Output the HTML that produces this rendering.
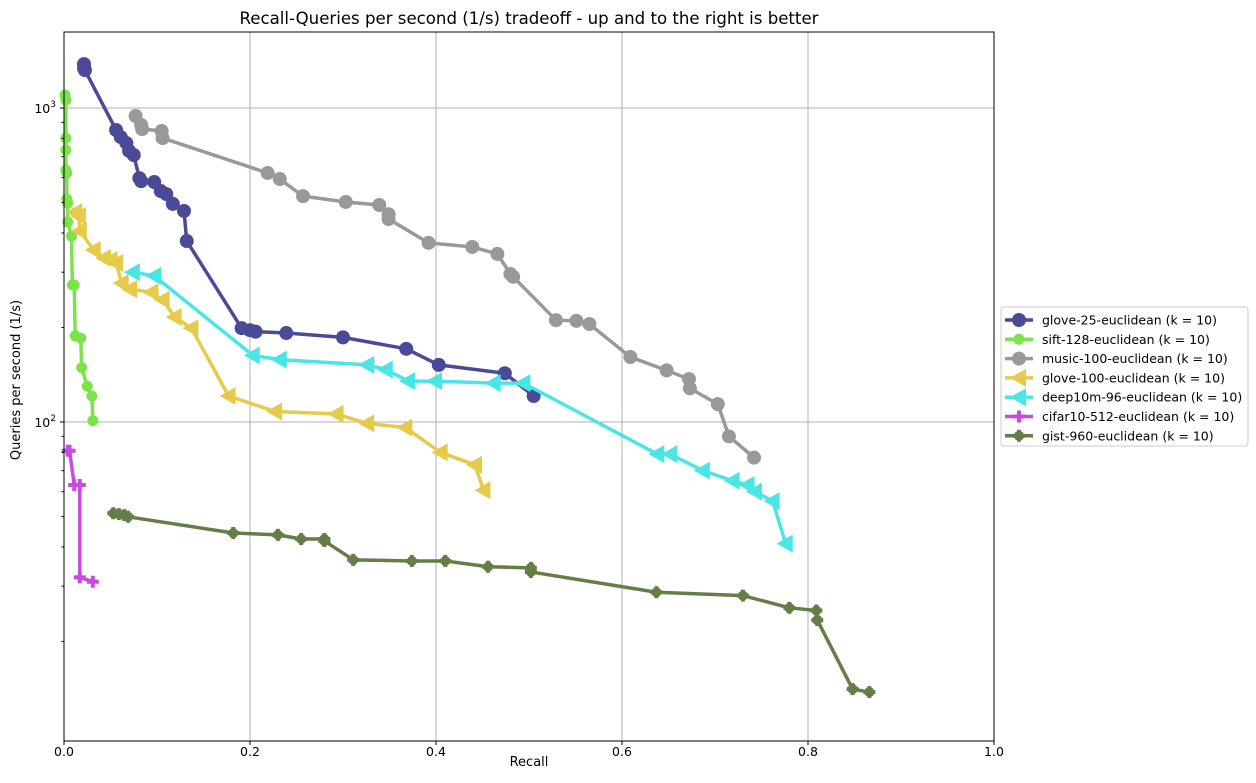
<!DOCTYPE html>
<html><head><meta charset="utf-8"><style>
body{margin:0;background:#fff;font-family:"Liberation Sans","DejaVu Sans",sans-serif}
svg text{font-family:"DejaVu Sans","Liberation Sans",sans-serif}
</style></head><body>
<svg id="chart" width="1256" height="778" xmlns="http://www.w3.org/2000/svg">
<rect width="1256" height="778" fill="#fff"/>
<g id="grid"></g>
<g id="series"></g>
<rect x="64" y="32" width="930" height="709" fill="none" stroke="#000" stroke-width="1"/>
<g id="axes"></g>
<text x="529" y="24" font-size="16.6" text-anchor="middle">Recall-Queries per second (1/s) tradeoff - up and to the right is better</text>
<text x="529" y="766" font-size="13" text-anchor="middle">Recall</text>
<text transform="translate(20,380) rotate(-90)" font-size="13" text-anchor="middle">Queries per second (1/s)</text>
<g id="legend"></g>
</svg>
<script>
const seriesNames=["glove-25-euclidean (k = 10)","sift-128-euclidean (k = 10)","music-100-euclidean (k = 10)","glove-100-euclidean (k = 10)","deep10m-96-euclidean (k = 10)","cifar10-512-euclidean (k = 10)","gist-960-euclidean (k = 10)"];
const glove25Recall=[.0215,.0215,.0225,.056,.061,.067,.070,.075,.081,.083,.097,.104,.110,.117,.129,.132,.191,.200,.206,.239,.300,.368,.403,.474,.505];
const glove25Qps=[1380,1340,1320,851,808,774,730,708,598,585,581,544,532,495,470,377,199,196,194,192,186,171,152,143,121];
const siftRecall=[.001,.002,.002,.002,.002,.003,.003,.004,.004,.008,.009,.011,.012,.018,.019,.025,.030,.031];
const siftQps=[1100,1060,802,735,634,621,513,498,433,391,273,273,188,185,149,130,121,101];
const musicRecall=[.077,.083,.084,.105,.106,.219,.232,.257,.303,.339,.349,.349,.392,.439,.466,.480,.483,.529,.551,.565,.609,.648,.672,.673,.703,.715,.742];
const musicQps=[943,883,857,845,802,621,594,524,502,491,459,443,372,361,343,296,290,211,210,205,161,146,137,128,114,90,77];
const glove100Recall=[.012,.016,.017,.032,.043,.050,.056,.062,.071,.094,.106,.119,.137,.177,.227,.293,.326,.367,.405,.442,.451];
const glove100Qps=[466,453,406,353,333,328,321,277,265,259,245,216,199,121,108,106,99,96,80,73,60.6];
const deepRecall=[.074,.097,.203,.232,.326,.346,.370,.399,.462,.494,.638,.652,.687,.719,.735,.743,.762,.776];
const deepQps=[300,292,163,158,152,147,135,135,133,133,79,79,70,65,63,60,56,41];
const cifarRecall=[.004,.006,.011,.017,.017,.031];
const cifarQps=[81,81,63,63,32,31];
const gistRecall=[.053,.059,.065,.069,.182,.230,.255,.280,.280,.311,.374,.410,.456,.502,.502,.637,.730,.780,.809,.810,.848,.866];
const gistQps=[51.2,50.9,50.5,49.9,44.3,43.7,42.4,42.4,41.8,36.4,36.1,36.1,34.6,34.3,33.3,28.7,28.0,25.6,25.1,23.4,14.1,13.8];
const xTicks=[0,0.2,0.4,0.6,0.8,1.0];
const xTickLabels=["0.0","0.2","0.4","0.6","0.8","1.0"];

const NS="http://www.w3.org/2000/svg";
const X0=64,X1=994,YT=32,YB=741;
const yMin=9.64,yMax=1746;
function xs(v){return X0+v*(X1-X0);}
function ys(v){return YB-(Math.log10(v)-Math.log10(yMin))/(Math.log10(yMax)-Math.log10(yMin))*(YB-YT);}
function mk(tag,attrs,parent){const e=document.createElementNS(NS,tag);for(const k in attrs)e.setAttribute(k,attrs[k]);parent.appendChild(e);return e;}
const grid=document.getElementById('grid'),axes=document.getElementById('axes'),ser=document.getElementById('series'),leg=document.getElementById('legend');

xTicks.forEach((t,i)=>{
  const x=xs(t);
  if(i>0&&i<xTicks.length-1){const g=mk('line',{x1:x,x2:x,y1:YT,y2:YB,stroke:'#b0b0b0','stroke-width':1},grid);
  
  }
  mk('line',{x1:x,x2:x,y1:YB,y2:YB+4,stroke:'#000'},axes);
  const tx=mk('text',{x:x,y:YB+15,'font-size':12.5,'text-anchor':'middle'},axes);tx.textContent=xTickLabels[i];
  
  
});
[100,1000].forEach(v=>{
  const y=ys(v);
  const g=mk('line',{x1:X0,x2:X1,y1:y,y2:y,stroke:'#b0b0b0','stroke-width':1},grid);
  
  
  mk('line',{x1:X0-4,x2:X0,y1:y,y2:y,stroke:'#000'},axes);
  const tx=mk('text',{x:X0-8,y:y+5,'font-size':12.5,'text-anchor':'end'},axes);
  tx.innerHTML='10<tspan dy="-6" font-size="9">'+(v===100?'2':'3')+'</tspan>';
  
  
});
for(let d=1;d<=1000;d*=10){for(let m=2;m<10;m++){const v=d*m;if(v<yMin||v>yMax)continue;const y=ys(v);mk('line',{x1:X0-2.5,x2:X0,y1:y,y2:y,stroke:'#000'},axes);}}

function marker(type,x,y,c,p){
  if(type==='o'){return mk('circle',{cx:x,cy:y,r:7,fill:c},p);}
  if(type==='s'){return mk('circle',{cx:x,cy:y,r:5.5,fill:c},p);}
  if(type==='<'){return mk('polygon',{points:`${x-9},${y} ${x+7},${y-9} ${x+7},${y+9}`,fill:c},p);}
  if(type==='+'){return mk('path',{d:`M${x-6},${y}H${x+6}M${x},${y-6}V${y+6}`,stroke:c,'stroke-width':4},p);}
  if(type==='P'){const g=mk('g',{},p);mk('circle',{cx:x,cy:y,r:5,fill:c},g);mk('path',{d:`M${x-6},${y}H${x+6}M${x},${y-6}V${y+6}`,stroke:c,'stroke-width':4},g);return g;}
}
const allSeries=[
 [glove25Recall,glove25Qps,'#4a4a98','o','glove-25'],
 [siftRecall,siftQps,'#7de34a','s','sift-128'],
 [musicRecall,musicQps,'#999999','o','music-100'],
 [glove100Recall,glove100Qps,'#e6ca4a','<','glove-100'],
 [deepRecall,deepQps,'#4ae6e6','<','deep10m-96'],
 [cifarRecall,cifarQps,'#c84ae0','+','cifar10-512'],
 [gistRecall,gistQps,'#657d47','P','gist-960']];
allSeries.forEach(([rx,qy,c,m,n])=>{
  const g=mk('g',{},ser);
  
  
  const pts=rx.map((r,i)=>xs(r)+','+ys(qy[i])).join(' ');
  const l=mk('polyline',{points:pts,fill:'none',stroke:c,'stroke-width':3.5,'stroke-linejoin':'round'},g);
  
  
  rx.forEach((r,i)=>{const e=marker(m,xs(r),ys(qy[i]),c,g);
    
    });
});
const lb=mk('rect',{x:1001,y:307,width:247,height:139,rx:3,fill:'#fff',stroke:'#ccc'},leg);


allSeries.forEach(([rx,qy,c,m,n],i)=>{
  const y=320+i*19.3;
  const g=mk('g',{},leg);
  
  
  mk('line',{x1:1005,x2:1033,y1:y,y2:y,stroke:c,'stroke-width':3.5},g);
  marker(m,1019,y,c,g);
  const t=mk('text',{x:1042,y:y+4.5,'font-size':12.5},g);t.textContent=seriesNames[i];
});
</script>
</body></html>
